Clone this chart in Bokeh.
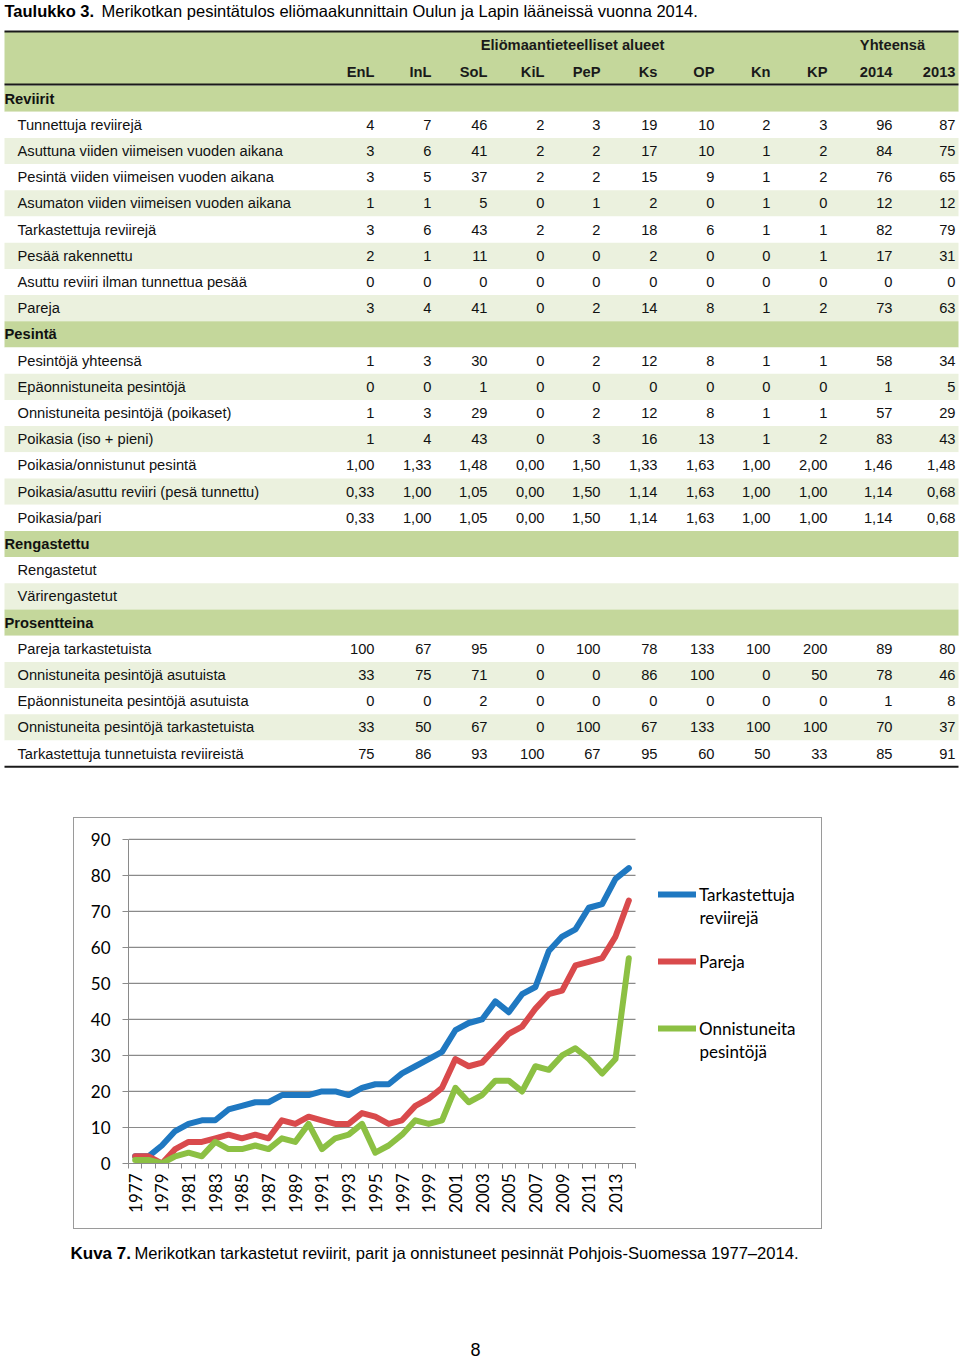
import math
from bokeh.plotting import figure
from bokeh.models import (Range1d, FixedTicker, Legend, LegendItem, Spacer, BasicTickFormatter,
                          Label)
from bokeh.layouts import column, row
from bokeh.core.properties import value
from bokeh.embed import file_html
from bokeh.resources import INLINE

# ---------------- data ----------------
title_bold = "Taulukko 3."
title_rest = "Merikotkan pesintätulos eliömaakunnittain Oulun ja Lapin lääneissä vuonna 2014."
group_header = "Eliömaantieteelliset alueet"
total_header = "Yhteensä"
col_headers = ["EnL", "InL", "SoL", "KiL", "PeP", "Ks", "OP", "Kn", "KP", "2014", "2013"]

section_names = ["Reviirit", "Pesintä", "Rengastettu", "Prosentteina"]

reviirit_labels = [
    "Tunnettuja reviirejä",
    "Asuttuna viiden viimeisen vuoden aikana",
    "Pesintä viiden viimeisen vuoden aikana",
    "Asumaton viiden viimeisen vuoden aikana",
    "Tarkastettuja reviirejä",
    "Pesää rakennettu",
    "Asuttu reviiri ilman tunnettua pesää",
    "Pareja",
]
reviirit_values = [
    ["4", "7", "46", "2", "3", "19", "10", "2", "3", "96", "87"],
    ["3", "6", "41", "2", "2", "17", "10", "1", "2", "84", "75"],
    ["3", "5", "37", "2", "2", "15", "9", "1", "2", "76", "65"],
    ["1", "1", "5", "0", "1", "2", "0", "1", "0", "12", "12"],
    ["3", "6", "43", "2", "2", "18", "6", "1", "1", "82", "79"],
    ["2", "1", "11", "0", "0", "2", "0", "0", "1", "17", "31"],
    ["0", "0", "0", "0", "0", "0", "0", "0", "0", "0", "0"],
    ["3", "4", "41", "0", "2", "14", "8", "1", "2", "73", "63"],
]
pesinta_labels = [
    "Pesintöjä yhteensä",
    "Epäonnistuneita pesintöjä",
    "Onnistuneita pesintöjä (poikaset)",
    "Poikasia (iso + pieni)",
    "Poikasia/onnistunut pesintä",
    "Poikasia/asuttu reviiri (pesä tunnettu)",
    "Poikasia/pari",
]
pesinta_values = [
    ["1", "3", "30", "0", "2", "12", "8", "1", "1", "58", "34"],
    ["0", "0", "1", "0", "0", "0", "0", "0", "0", "1", "5"],
    ["1", "3", "29", "0", "2", "12", "8", "1", "1", "57", "29"],
    ["1", "4", "43", "0", "3", "16", "13", "1", "2", "83", "43"],
    ["1,00", "1,33", "1,48", "0,00", "1,50", "1,33", "1,63", "1,00", "2,00", "1,46", "1,48"],
    ["0,33", "1,00", "1,05", "0,00", "1,50", "1,14", "1,63", "1,00", "1,00", "1,14", "0,68"],
    ["0,33", "1,00", "1,05", "0,00", "1,50", "1,14", "1,63", "1,00", "1,00", "1,14", "0,68"],
]
rengastettu_labels = ["Rengastetut", "Värirengastetut"]
rengastettu_values = [[""] * 11, [""] * 11]
prosentteina_labels = [
    "Pareja tarkastetuista",
    "Onnistuneita pesintöjä asutuista",
    "Epäonnistuneita pesintöjä asutuista",
    "Onnistuneita pesintöjä tarkastetuista",
    "Tarkastettuja tunnetuista reviireistä",
]
prosentteina_values = [
    ["100", "67", "95", "0", "100", "78", "133", "100", "200", "89", "80"],
    ["33", "75", "71", "0", "0", "86", "100", "0", "50", "78", "46"],
    ["0", "0", "2", "0", "0", "0", "0", "0", "0", "1", "8"],
    ["33", "50", "67", "0", "100", "67", "133", "100", "100", "70", "37"],
    ["75", "86", "93", "100", "67", "95", "60", "50", "33", "85", "91"],
]

years = list(range(1977, 2015))
tick_years = list(range(1977, 2014, 2))
y_ticks = [0, 10, 20, 30, 40, 50, 60, 70, 80, 90]
tarkastettuja = [2, 2, 5, 9, 11, 12, 12, 15, 16, 17, 17, 19, 19, 19, 20, 20, 19, 21, 22, 22,
                 25, 27, 29, 31, 37, 39, 40, 45, 42, 47, 49, 59, 63, 65, 71, 72, 79, 82]
pareja = [2, 2, 0, 4, 6, 6, 7, 8, 7, 8, 7, 12, 11, 13, 12, 11, 11, 14, 13, 11,
          12, 16, 18, 21, 29, 27, 28, 32, 36, 38, 43, 47, 48, 55, 56, 57, 63, 73]
onnistuneita = [1, 1, 0, 2, 3, 2, 6, 4, 4, 5, 4, 7, 6, 11, 4, 7, 8, 11, 3, 5,
                8, 12, 11, 12, 21, 17, 19, 23, 23, 20, 27, 26, 30, 32, 29, 25, 29, 57]
series_first_lines = ["Tarkastettuja", "Pareja", "Onnistuneita"]
series_second_lines = ["reviirejä", "", "pesintöjä"]

caption_bold = "Kuva 7."
caption_rest = "Merikotkan tarkastetut reviirit, parit ja onnistuneet pesinnät Pohjois-Suomessa 1977–2014."
page_number = "8"

# ---------------- styles ----------------
ARIAL = value("Liberation Sans")
CHART_FONT = "Lato"
SEC_GREEN = "#c4d79b"
LIGHT_GREEN = "#ebf1de"
TFS = "14.7px"
col_right = [374, 431, 487, 544, 600, 657, 714, 770, 827, 892, 955]

# ---------------- table figure ----------------
pt = figure(width=960, height=808, x_range=Range1d(0, 960), y_range=Range1d(808, 0),
            output_backend="svg", toolbar_location=None, x_axis_location=None,
            y_axis_location=None, min_border=0, outline_line_color=None)
pt.grid.visible = False

rows = []
for name, labels, vals in zip(section_names,
                              [reviirit_labels, pesinta_labels, rengastettu_labels, prosentteina_labels],
                              [reviirit_values, pesinta_values, rengastettu_values, prosentteina_values]):
    rows.append(("section", name, None, 0))
    for j, (lab, v) in enumerate(zip(labels, vals)):
        rows.append(("data", lab, v, j))

ROW_TOP0 = 85.0
ROW_H = 26.2

bg_l, bg_r, bg_t, bg_b, bg_c = [4], [958], [31], [84], [SEC_GREEN]
for k, (kind, lab, v, j) in enumerate(rows):
    top = ROW_TOP0 + ROW_H * k
    if kind == "section":
        c = SEC_GREEN
    else:
        c = LIGHT_GREEN if j % 2 == 1 else "white"
    bg_l.append(4); bg_r.append(958); bg_t.append(top); bg_b.append(top + ROW_H); bg_c.append(c)
pt.quad(left=bg_l, right=bg_r, top=bg_t, bottom=bg_b, fill_color=bg_c, line_color=None)

table_bottom = ROW_TOP0 + ROW_H * len(rows)
pt.segment(x0=[4, 4, 4], x1=[958, 958, 958], y0=[31, 84, table_bottom], y1=[31, 84, table_bottom],
           line_color="#1a1a1a", line_width=2)

pt.text(x=[4], y=[10], text=[title_bold], text_font=ARIAL, text_font_style="bold",
        text_font_size="16.5px", text_baseline="middle", text_color="black")
pt.text(x=[101], y=[10], text=[title_rest], text_font=ARIAL,
        text_font_size="16.5px", text_baseline="middle", text_color="black")

pt.text(x=[572, 892], y=[44, 44], text=[group_header, total_header], text_font=ARIAL,
        text_font_style="bold", text_font_size=TFS, text_align="center",
        text_baseline="middle", text_color="#1a1a1a")
pt.text(x=col_right, y=[71] * len(col_headers), text=col_headers, text_font=ARIAL,
        text_font_style="bold", text_font_size=TFS, text_align="right",
        text_baseline="middle", text_color="#1a1a1a")

sx, sy, st = [], [], []
dx, dy, dt = [], [], []
nx, ny, nt = [], [], []
for k, (kind, lab, v, j) in enumerate(rows):
    yc = ROW_TOP0 + ROW_H * k + ROW_H / 2
    if kind == "section":
        sx.append(4); sy.append(yc); st.append(lab)
    else:
        dx.append(17); dy.append(yc); dt.append(lab)
        for xr, s in zip(col_right, v):
            if s:
                nx.append(xr); ny.append(yc); nt.append(s)
pt.text(x=sx, y=sy, text=st, text_font=ARIAL, text_font_style="bold", text_font_size=TFS,
        text_baseline="middle", text_color="#111111")
pt.text(x=dx, y=dy, text=dt, text_font=ARIAL, text_font_size=TFS,
        text_baseline="middle", text_color="#111111")
pt.text(x=nx, y=ny, text=nt, text_font=ARIAL, text_font_size=TFS, text_align="right",
        text_baseline="middle", text_color="#111111")

# ---------------- chart figure ----------------
BOX_W, BOX_H = 749, 412
B_LEFT, B_RIGHT, B_TOP, B_BOTTOM = 54, 7, 19, 67
frame_w = BOX_W - B_LEFT - B_RIGHT
frame_h = BOX_H - B_TOP - B_BOTTOM
px_per_year = 507 / len(years)
x0 = years[0] - 0.5
x1 = x0 + frame_w / px_per_year
y_top = 90.5
px_per_unit = frame_h / y_top

pc = figure(width=BOX_W, height=BOX_H, x_range=Range1d(x0, x1), y_range=Range1d(0, y_top),
            output_backend="svg", toolbar_location=None,
            min_border_left=B_LEFT, min_border_right=B_RIGHT, min_border_top=B_TOP,
            min_border_bottom=B_BOTTOM,
            outline_line_color=None, styles={"border": "1px solid #9a9a9a"})
GRID = "#8a8a8a"
yt = FixedTicker(ticks=y_ticks, minor_ticks=[])
pc.yaxis.ticker = yt
pc.grid.visible = False
pc.segment(x0=[years[0] - 0.5] * len(y_ticks), x1=[years[-1] + 0.5] * len(y_ticks),
           y0=y_ticks, y1=y_ticks, line_color=GRID, line_width=1.2)
pc.yaxis.axis_line_color = GRID
pc.yaxis.major_tick_line_color = GRID
pc.yaxis.major_tick_out = 6
pc.yaxis.major_tick_in = 0
pc.yaxis.minor_tick_line_color = None
pc.yaxis.major_label_standoff = 12
pc.yaxis.bounds = (0, 90)
pc.yaxis.major_label_text_font = CHART_FONT
pc.yaxis.major_label_text_font_size = "17px"
pc.yaxis.major_label_text_color = "black"

xt = FixedTicker(ticks=tick_years, minor_ticks=[y - 0.5 for y in years] + [years[-1] + 0.5])
pc.xaxis.ticker = xt
pc.xaxis.bounds = (years[0] - 0.5, years[-1] + 0.5)
pc.xaxis.formatter = BasicTickFormatter(use_scientific=False)
pc.xaxis.axis_line_color = GRID
pc.xaxis.major_tick_line_color = None
pc.xaxis.major_tick_out = 0
pc.xaxis.major_tick_in = 0
pc.xaxis.minor_tick_line_color = GRID
pc.xaxis.minor_tick_out = 5
pc.xaxis.minor_tick_in = 0
pc.xaxis.major_label_orientation = math.pi / 2
pc.xaxis.major_label_standoff = 5
pc.xaxis.major_label_text_font = CHART_FONT
pc.xaxis.major_label_text_font_size = "17px"
pc.xaxis.major_label_text_color = "black"

colors = ["#1f78c1", "#d94a4c", "#8cc043"]
renderers = []
for vals, c in zip([tarkastettuja, pareja, onnistuneita], colors):
    r = pc.line(years, vals, line_color=c, line_width=6, line_join="round", line_cap="round")
    renderers.append(r)

LEG_LEFT = 530
LEG_BOTTOM = 123
ITEM_H = 24
ITEM_GAP = 43
LINE2_OFFSET = 23
legend = Legend(items=[LegendItem(label=n, renderers=[r]) for n, r in zip(series_first_lines, renderers)],
                location=(LEG_LEFT, LEG_BOTTOM), padding=0, margin=0, spacing=ITEM_GAP,
                border_line_color=None, background_fill_alpha=0, glyph_width=38,
                glyph_height=ITEM_H, label_standoff=3, label_height=ITEM_H,
                label_text_font=CHART_FONT, label_text_font_size="17px", label_text_color="black")
pc.add_layout(legend)

leg_top_px = LEG_BOTTOM + 3 * ITEM_H + 2 * ITEM_GAP
text_x = x0 + (LEG_LEFT + 38 + 3) / px_per_year
for i, txt in enumerate(series_second_lines):
    if not txt:
        continue
    line_center_px = leg_top_px - i * (ITEM_H + ITEM_GAP) - ITEM_H / 2 - LINE2_OFFSET
    pc.add_layout(Label(x=text_x, y=line_center_px / px_per_unit, text=txt,
                        text_font=CHART_FONT, text_font_size="17px", text_color="black",
                        text_baseline="middle", text_align="left"))

# ---------------- bottom figure ----------------
pb = figure(width=960, height=136, x_range=Range1d(0, 960), y_range=Range1d(1365, 1229),
            output_backend="svg", toolbar_location=None, x_axis_location=None,
            y_axis_location=None, min_border=0, outline_line_color=None)
pb.grid.visible = False
pb.text(x=[70], y=[1253], text=[caption_bold], text_font=ARIAL, text_font_style="bold",
        text_font_size="17px", text_baseline="middle", text_color="black")
pb.text(x=[134], y=[1253], text=[caption_rest], text_font=ARIAL,
        text_font_size="16.6px", text_baseline="middle", text_color="black")
pb.text(x=[475], y=[1349], text=[page_number], text_font=ARIAL,
        text_font_size="18px", text_align="center", text_baseline="middle", text_color="black")

layout = column(pt, Spacer(height=9), row(Spacer(width=73), pc), pb)
open("out.html", "w").write(file_html(layout, INLINE))
